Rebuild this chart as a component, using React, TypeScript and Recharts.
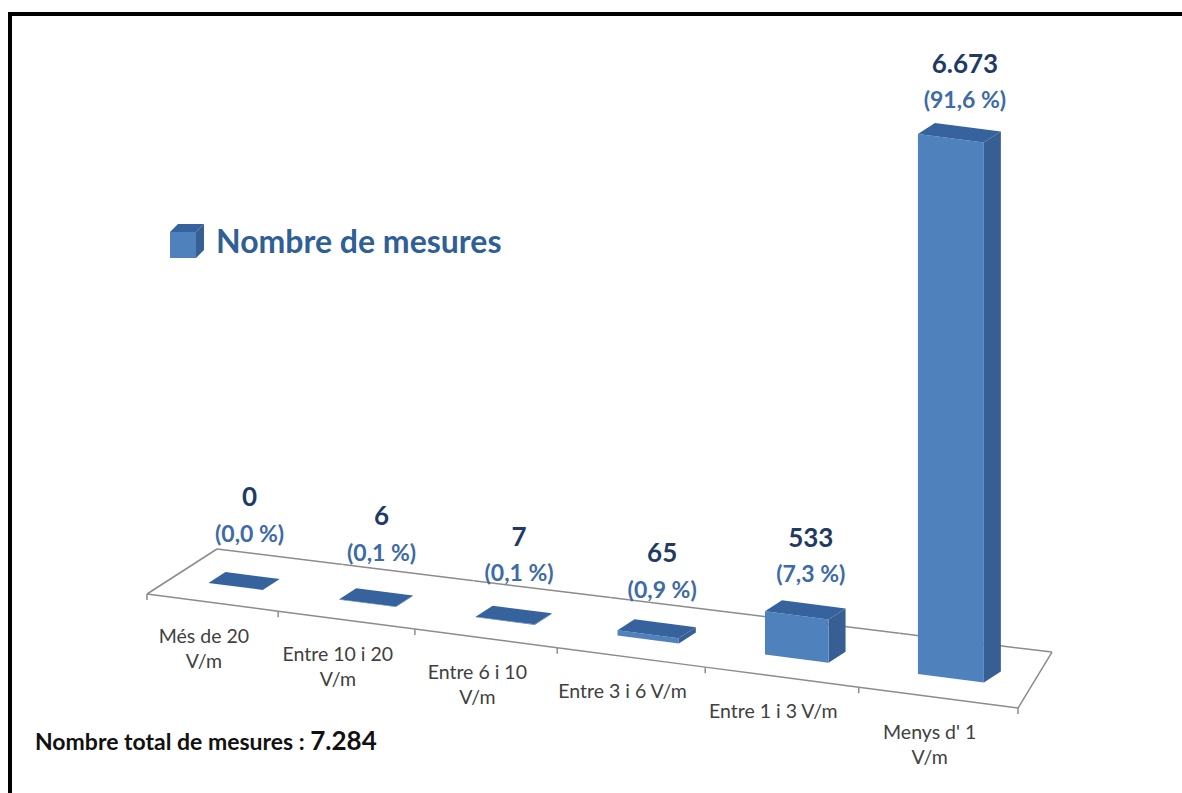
import React from "react";
import { BarChart, Bar, XAxis, YAxis, LabelList } from "recharts";

const categories = [
  "Més de 20\nV/m",
  "Entre 10 i 20\nV/m",
  "Entre 6 i 10\nV/m",
  "Entre 3 i 6 V/m",
  "Entre 1 i 3 V/m",
  "Menys d' 1\nV/m",
];
const counts = [0, 6, 7, 65, 533, 6673];
const percents = [0.0, 0.1, 0.1, 0.9, 7.3, 91.6];
const seriesName = "Nombre de mesures";
const totalLabel = "Nombre total de mesures : ";

const data = categories.map((name, i) => ({ name, count: counts[i], pct: percents[i] }));
const total = counts.reduce((a, b) => a + b, 0);

const fmtNum = (v: number) => String(v).replace(/\B(?=(\d{3})+(?!\d))/g, ".");
const fmtPct = (v: number) => `(${v.toFixed(1).replace(".", ",")} %)`;

// layout / fake 3D projection
const W = 1182;
const H = 793;
const PLOT_L = 147;
const PLOT_R = 1018;
const PLOT_W = PLOT_R - PLOT_L;
const FLOOR_Y = 594;
const PLOT_H = 540;
const AXIS_H = 30;
const FRONT_SLOPE = 0.131;
const WARP_A = 0.884;
const BAR_DEPTH_T = 0.35;
const BOX = [17, -11];
const FONT = "Lato, 'Open Sans', sans-serif";

const warp = (x: number) => {
  const u = (x - PLOT_L) / PLOT_W;
  return PLOT_L + PLOT_W * (WARP_A * u + (1 - WARP_A) * u * u);
};
const frontY = (xw: number) => FLOOR_Y + FRONT_SLOPE * (xw - PLOT_L);
const depth = (xw: number) => {
  const u = (xw - PLOT_L) / PLOT_W;
  return [70 - 36 * u, -45 - 11 * u];
};
const floorPoint = (x: number, t: number) => {
  const xw = warp(x);
  const d = depth(xw);
  return [xw + t * d[0], frontY(xw) + t * d[1]];
};

const pts = (arr: number[][]) => arr.map((p) => `${p[0]},${p[1]}`).join(" ");

const FloorSegment = (props: any) => {
  const { index } = props;
  const bandW = PLOT_W / categories.length;
  const x0 = PLOT_L + index * bandW;
  const x1 = x0 + bandW;
  const f0 = floorPoint(x0, 0);
  const f1 = floorPoint(x1, 0);
  const b0 = floorPoint(x0, 1);
  const b1 = floorPoint(x1, 1);
  const stroke = "#8c8c8c";
  return (
    <g>
      <polygon points={pts([f0, f1, b1, b0])} fill="#ffffff" stroke="none" />
      <line x1={f0[0]} y1={f0[1]} x2={f1[0]} y2={f1[1]} stroke={stroke} strokeWidth={1.5} />
      <line x1={b0[0]} y1={b0[1]} x2={b1[0]} y2={b1[1]} stroke={stroke} strokeWidth={1.5} />
      <line x1={f1[0]} y1={f1[1]} x2={f1[0]} y2={f1[1] + 6} stroke={stroke} strokeWidth={1.5} />
      {index === 0 && (
        <>
          <line x1={f0[0]} y1={f0[1]} x2={b0[0]} y2={b0[1]} stroke={stroke} strokeWidth={1.5} />
          <line x1={f0[0]} y1={f0[1]} x2={f0[0]} y2={f0[1] + 6} stroke={stroke} strokeWidth={1.5} />
        </>
      )}
      {index === categories.length - 1 && (
        <line x1={f1[0]} y1={f1[1]} x2={b1[0]} y2={b1[1]} stroke={stroke} strokeWidth={1.5} />
      )}
    </g>
  );
};

const boxGeom = (x: number, width: number, height: number) => {
  const bl = floorPoint(x, BAR_DEPTH_T);
  const br = floorPoint(x + width, BAR_DEPTH_T);
  const h = Math.max(0, height || 0);
  const tl = [bl[0], bl[1] - h];
  const tr = [br[0], br[1] - h];
  return { bl, br, tl, tr };
};

const Box3D = (props: any) => {
  const { x, width, height } = props;
  const { bl, br, tl, tr } = boxGeom(x, width, height);
  const add = (p: number[]) => [p[0] + BOX[0], p[1] + BOX[1]];
  return (
    <g>
      <polygon points={pts([br, add(br), add(tr), tr])} fill="#385f93" />
      <polygon points={pts([bl, br, tr, tl])} fill="#4f81bd" />
      <polygon points={pts([tl, tr, add(tr), add(tl)])} fill="#36639d" />
    </g>
  );
};

const makeLabel = (kind: "count" | "pct") => (props: any) => {
  const vb = props.viewBox || props;
  const { x, width, height } = vb;
  const { tl, tr } = boxGeom(x, width, height);
  const cx = (tl[0] + tr[0]) / 2 + 14;
  const top = (tl[1] + tr[1]) / 2;
  const u = (cx - PLOT_L) / PLOT_W;
  if (kind === "count") {
    return (
      <text x={cx} y={top - 83 + 19 * u} textAnchor="middle" fontFamily={FONT} fontWeight={700} fontSize={26} fill="#1f3b63">
        {fmtNum(Number(props.value))}
      </text>
    );
  }
  return (
    <text x={cx} y={top - 47 + 18 * u} textAnchor="middle" fontFamily={FONT} fontWeight={700} fontSize={23} fill="#3d6aa8">
      {fmtPct(Number(props.value))}
    </text>
  );
};

const CategoryTick = (props: any) => {
  const { x, payload } = props;
  const xw = warp(x) - 8;
  const y0 = frontY(xw) + 42;
  const lines = String(payload.value).split("\n");
  return (
    <text x={xw} y={y0} textAnchor="middle" fontFamily={FONT} fontSize={19.5} fill="#404040">
      {lines.map((l, i) => (
        <tspan key={i} x={xw} dy={i === 0 ? 0 : 25}>
          {l}
        </tspan>
      ))}
    </text>
  );
};

const LegendCube = () => (
  <svg width={38} height={38} style={{ display: "block" }}>
    <polygon points="2,10 28,10 28,36 2,36" fill="#4f81bd" />
    <polygon points="2,10 10,2 36,2 28,10" fill="#36639d" />
    <polygon points="28,10 36,2 36,28 28,36" fill="#385f93" />
  </svg>
);

export default function App() {
  return (
    <div style={{ position: "absolute", left: 0, top: 0, width: W, height: H, background: "#fff", overflow: "hidden" }}>
      <div style={{ position: "absolute", left: 8, top: 12, width: W - 8, height: 4, background: "#000" }} />
      <div style={{ position: "absolute", left: 8, top: 12, width: 4, height: H - 12, background: "#000" }} />
      <div style={{ position: "absolute", left: 0, top: 0 }}>
        <BarChart
          width={W}
          height={H}
          data={data}
          barCategoryGap="29%"
          margin={{ top: FLOOR_Y - PLOT_H, right: W - PLOT_R, bottom: H - FLOOR_Y - AXIS_H, left: PLOT_L }}
        >
          <XAxis
            dataKey="name"
            axisLine={false}
            tickLine={false}
            interval={0}
            height={AXIS_H}
            tick={<CategoryTick />}
          />
          <YAxis hide width={0} domain={[0, "dataMax"]} />
          <Bar dataKey="count" isAnimationActive={false} shape={<Box3D />} background={<FloorSegment />}>
            <LabelList dataKey="count" content={makeLabel("count")} />
            <LabelList dataKey="pct" content={makeLabel("pct")} />
          </Bar>
        </BarChart>
      </div>
      <div
        style={{
          position: "absolute",
          left: 168,
          top: 221,
          display: "flex",
          alignItems: "center",
          gap: 10,
        }}
      >
        <LegendCube />
        <span style={{ fontFamily: FONT, fontWeight: 700, fontSize: 32, color: "#2f5f96" }}>{seriesName}</span>
      </div>
      <div
        style={{
          position: "absolute",
          left: 35,
          top: 724,
          fontFamily: FONT,
          fontWeight: 700,
          color: "#111",
          whiteSpace: "nowrap",
        }}
      >
        <span style={{ fontSize: 23 }}>{totalLabel}</span>
        <span style={{ fontSize: 26 }}>{fmtNum(total)}</span>
      </div>
    </div>
  );
}
